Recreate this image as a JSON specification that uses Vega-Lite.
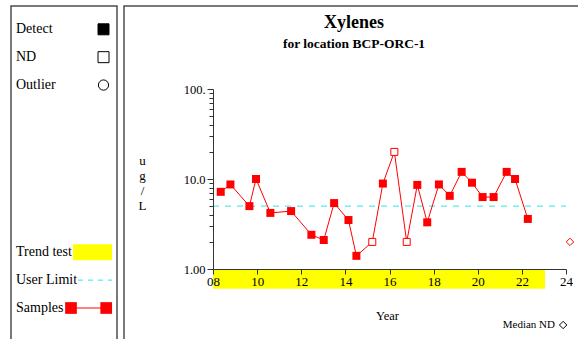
{
  "$schema": "https://vega.github.io/schema/vega-lite/v6.json",
  "background": "white",
  "padding": {"left": 10, "top": 5, "right": 0, "bottom": 0},
  "spacing": 5,
  "config": {
    "font": "Liberation Serif",
    "view": {"stroke": "#4d4d4d", "strokeWidth": 1.5},
    "axis": {"grid": false, "labelFont": "Liberation Serif", "titleFont": "Liberation Serif", "labelColor": "black", "titleColor": "black", "domainColor": "#333", "tickColor": "#333"}
  },
  "datasets": {
    "samples": [
      {"year": 8.35, "value": 7.2, "status": "Detect"},
      {"year": 8.79, "value": 8.7, "status": "Detect"},
      {"year": 9.65, "value": 5.0, "status": "Detect"},
      {"year": 9.95, "value": 10.0, "status": "Detect"},
      {"year": 10.6, "value": 4.2, "status": "Detect"},
      {"year": 11.54, "value": 4.4, "status": "Detect"},
      {"year": 12.46, "value": 2.4, "status": "Detect"},
      {"year": 13.02, "value": 2.1, "status": "Detect"},
      {"year": 13.49, "value": 5.4, "status": "Detect"},
      {"year": 14.14, "value": 3.5, "status": "Detect"},
      {"year": 14.5, "value": 1.4, "status": "Detect"},
      {"year": 15.22, "value": 2.0, "status": "ND"},
      {"year": 15.7, "value": 8.9, "status": "Detect"},
      {"year": 16.22, "value": 20.0, "status": "ND"},
      {"year": 16.78, "value": 2.0, "status": "ND"},
      {"year": 17.26, "value": 8.6, "status": "Detect"},
      {"year": 17.71, "value": 3.3, "status": "Detect"},
      {"year": 18.24, "value": 8.7, "status": "Detect"},
      {"year": 18.73, "value": 6.5, "status": "Detect"},
      {"year": 19.27, "value": 12.0, "status": "Detect"},
      {"year": 19.74, "value": 9.1, "status": "Detect"},
      {"year": 20.22, "value": 6.3, "status": "Detect"},
      {"year": 20.72, "value": 6.3, "status": "Detect"},
      {"year": 21.31, "value": 12.0, "status": "Detect"},
      {"year": 21.69, "value": 10.0, "status": "Detect"},
      {"year": 22.27, "value": 3.6, "status": "Detect"}
    ],
    "median": [{"year": 24.18, "value": 2.0, "label": "Median ND"}],
    "trend": [{"start": 8, "end": 23.05}],
    "limit": [{"limit": 5, "start": 8, "end": 24}],
    "legend": [
      {"label": "Detect", "order": 0},
      {"label": "ND", "order": 1},
      {"label": "Outlier", "order": 2},
      {"label": "Trend test", "order": 8},
      {"label": "User Limit", "order": 9},
      {"label": "Samples", "order": 10}
    ]
  },
  "hconcat": [
    {
      "width": 106,
      "height": 345,
      "data": {"name": "legend"},
      "layer": [
        {
          "mark": {"type": "text", "align": "left", "baseline": "middle", "fontSize": 14, "font": "Liberation Serif", "color": "black"},
          "encoding": {
            "x": {"datum": 5, "type": "quantitative", "scale": {"domain": [0, 106], "range": [0, 106], "nice": false, "zero": false, "padding": 0}, "axis": null},
            "y": {"field": "order", "type": "quantitative", "scale": {"domain": [0, 10], "range": [23.3, 302], "nice": false, "zero": false, "padding": 0}, "axis": null},
            "text": {"field": "label"}
          }
        },
        {
          "transform": [{"filter": "datum.label === 'Detect' || datum.label === 'ND'"}],
          "mark": {"type": "point", "shape": "square", "size": 121, "stroke": "black", "strokeWidth": 1, "opacity": 1},
          "encoding": {
            "x": {"datum": 92.5, "type": "quantitative"},
            "y": {"field": "order", "type": "quantitative"},
            "fill": {"condition": {"test": "datum.label === 'Detect'", "value": "black"}, "value": "white"}
          }
        },
        {
          "transform": [{"filter": "datum.label === 'Outlier'"}],
          "mark": {"type": "point", "shape": "circle", "size": 105, "stroke": "black", "strokeWidth": 1, "fill": "white", "opacity": 1},
          "encoding": {
            "x": {"datum": 92.5, "type": "quantitative"},
            "y": {"field": "order", "type": "quantitative"}
          }
        },
        {
          "transform": [{"filter": "datum.label === 'Trend test'"}],
          "mark": {"type": "bar", "color": "#ffff00", "size": 16, "orient": "horizontal"},
          "encoding": {
            "x": {"datum": 62, "type": "quantitative"},
            "x2": {"datum": 101},
            "y": {"field": "order", "type": "quantitative"}
          }
        },
        {
          "transform": [{"filter": "datum.label === 'User Limit'"}],
          "mark": {"type": "rule", "color": "#2ee6e6", "strokeWidth": 1, "strokeDash": [5, 5]},
          "encoding": {
            "x": {"datum": 67, "type": "quantitative"},
            "x2": {"datum": 101},
            "y": {"field": "order", "type": "quantitative"}
          }
        },
        {
          "transform": [{"filter": "datum.label === 'Samples'"}],
          "mark": {"type": "rule", "color": "red", "strokeWidth": 1},
          "encoding": {
            "x": {"datum": 60, "type": "quantitative"},
            "x2": {"datum": 95.2},
            "y": {"field": "order", "type": "quantitative"}
          }
        },
        {
          "transform": [{"filter": "datum.label === 'Samples'"}],
          "mark": {"type": "point", "shape": "square", "size": 137, "filled": true, "color": "red", "opacity": 1},
          "encoding": {
            "x": {"datum": 60, "type": "quantitative"},
            "y": {"field": "order", "type": "quantitative"}
          }
        },
        {
          "transform": [{"filter": "datum.label === 'Samples'"}],
          "mark": {"type": "point", "shape": "square", "size": 137, "filled": true, "color": "red", "opacity": 1},
          "encoding": {
            "x": {"datum": 95.2, "type": "quantitative"},
            "y": {"field": "order", "type": "quantitative"}
          }
        }
      ]
    },
    {
      "width": 460,
      "height": 345,
      "title": {
        "text": "Xylenes",
        "subtitle": "for location BCP-ORC-1",
        "anchor": "middle",
        "frame": "group",
        "offset": -44,
        "font": "Liberation Serif",
        "fontSize": 18,
        "fontWeight": "bold",
        "color": "black",
        "subtitleFont": "Liberation Serif",
        "subtitleFontSize": 13.5,
        "subtitleFontWeight": "bold",
        "subtitleColor": "black",
        "subtitlePadding": 5
      },
      "layer": [
        {
          "data": {"name": "trend"},
          "mark": {"type": "rect", "color": "#ffff00"},
          "encoding": {
            "x": {
              "field": "start", "type": "quantitative",
              "scale": {"domain": [8, 24], "range": [89, 442], "nice": false, "zero": false, "padding": 0},
              "axis": {
                "zindex": 1,
                "offset": -82,
                "values": [8, 9, 10, 11, 12, 13, 14, 15, 16, 17, 18, 19, 20, 21, 22, 23, 24],
                "labelExpr": "datum.value % 2 === 0 ? (datum.value < 10 ? '0' + datum.value : '' + datum.value) : ''",
                "tickSize": 5,
                "labelPadding": 1,
                "labelFontSize": 13,
                "labelFlush": false,
                "labelOverlap": false,
                "title": "Year",
                "titleFontSize": 12.5,
                "titleFontWeight": "normal",
                "titleBaseline": "alphabetic",
                "titleX": 263,
                "titleY": 50
              }
            },
            "x2": {"field": "end"},
            "y": {
              "datum": 1, "type": "quantitative",
              "scale": {"type": "log", "domain": [1, 100], "range": [263, 83], "nice": false, "padding": 0},
              "axis": {
                "zindex": 1,
                "offset": -89,
                "values": [1, 2, 3, 4, 5, 6, 7, 8, 9, 10, 20, 30, 40, 50, 60, 70, 80, 90, 100],
                "labelExpr": "datum.value === 1 ? '1.00' : datum.value === 10 ? '10.0' : datum.value === 100 ? '100.' : ''",
                "tickSize": {"condition": {"test": "datum.value === 1 || datum.value === 10 || datum.value === 100", "value": 6}, "value": 4},
                "labelPadding": 2,
                "labelFontSize": 12.5,
                "labelOverlap": false,
                "labelFlush": false,
                "title": ["u", "g", "/", "L"],
                "titleAngle": 0,
                "titleAlign": "center",
                "titleBaseline": "middle",
                "titleX": -71,
                "titleY": 154,
                "titleFontSize": 13,
                "titleFontWeight": "normal",
                "titleLineHeight": 15.3
              }
            },
            "y2": {"datum": 0.604}
          }
        },
        {
          "data": {"name": "limit"},
          "mark": {"type": "rule", "color": "#2ee6e6", "strokeWidth": 1, "strokeDash": [6, 6]},
          "encoding": {
            "x": {"field": "start", "type": "quantitative"},
            "x2": {"field": "end"},
            "y": {"field": "limit", "type": "quantitative"}
          }
        },
        {
          "data": {"name": "samples"},
          "mark": {"type": "line", "color": "red", "strokeWidth": 1},
          "encoding": {
            "x": {"field": "year", "type": "quantitative"},
            "y": {"field": "value", "type": "quantitative"}
          }
        },
        {
          "data": {"name": "samples"},
          "transform": [{"filter": "datum.status === 'Detect'"}],
          "mark": {"type": "point", "shape": "square", "size": 64, "filled": true, "color": "red", "opacity": 1},
          "encoding": {
            "x": {"field": "year", "type": "quantitative"},
            "y": {"field": "value", "type": "quantitative"}
          }
        },
        {
          "data": {"name": "samples"},
          "transform": [{"filter": "datum.status === 'ND'"}],
          "mark": {"type": "point", "shape": "square", "size": 49, "fill": "white", "stroke": "red", "strokeWidth": 1, "opacity": 1},
          "encoding": {
            "x": {"field": "year", "type": "quantitative"},
            "y": {"field": "value", "type": "quantitative"}
          }
        },
        {
          "data": {"name": "median"},
          "mark": {"type": "point", "shape": "diamond", "size": 55, "fill": "white", "stroke": "red", "strokeWidth": 1, "opacity": 1},
          "encoding": {
            "x": {"field": "year", "type": "quantitative"},
            "y": {"field": "value", "type": "quantitative"}
          }
        },
        {
          "data": {"name": "median"},
          "mark": {"type": "text", "align": "right", "baseline": "alphabetic", "fontSize": 11, "font": "Liberation Serif", "color": "black"},
          "encoding": {
            "x": {"datum": 23.5, "type": "quantitative"},
            "y": {"datum": 0.221, "type": "quantitative"},
            "text": {"field": "label"}
          }
        },
        {
          "data": {"name": "median"},
          "mark": {"type": "point", "shape": "diamond", "size": 55, "fill": "white", "stroke": "black", "strokeWidth": 1, "opacity": 1},
          "encoding": {
            "x": {"datum": 23.87, "type": "quantitative"},
            "y": {"datum": 0.2386, "type": "quantitative"}
          }
        }
      ]
    }
  ]
}
